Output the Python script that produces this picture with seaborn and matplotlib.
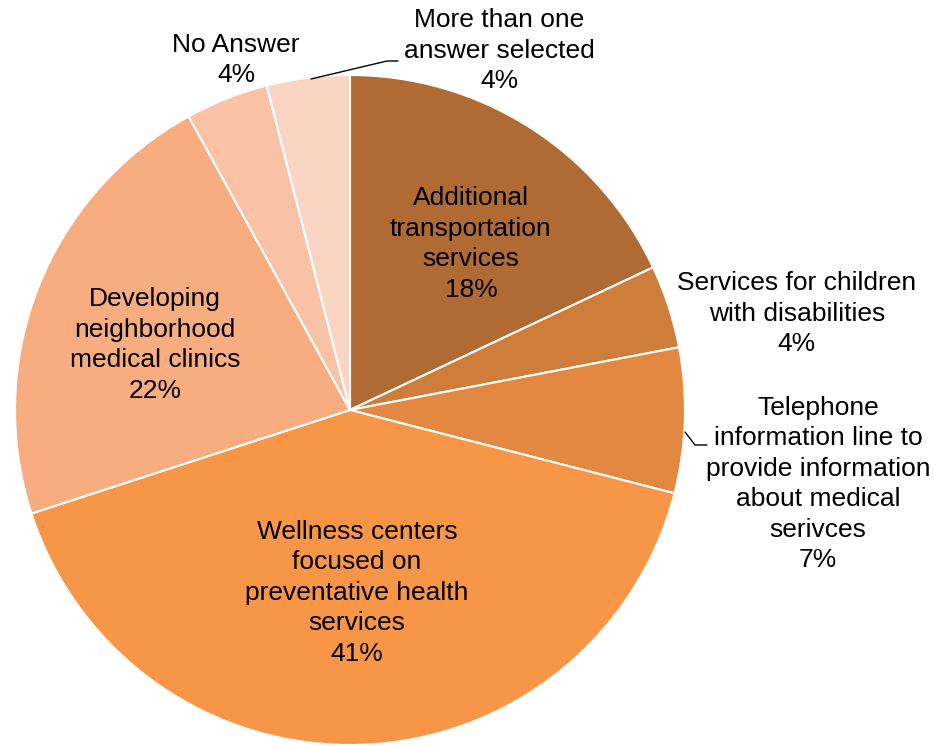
import matplotlib
matplotlib.use("Agg")
import matplotlib.pyplot as plt
import seaborn as sns
import numpy as np

sns.set_style("white")
plt.rcParams["font.family"] = ["Liberation Sans", "DejaVu Sans"]

# Survey responses (percent of respondents), clockwise from 12 o'clock
categories = [
    "Additional\ntransportation\nservices",
    "Services for children\nwith disabilities",
    "Telephone\ninformation line to\nprovide information\nabout medical\nserivces",
    "Wellness centers\nfocused on\npreventative health\nservices",
    "Developing\nneighborhood\nmedical clinics",
    "No Answer",
    "More than one\nanswer selected",
]
values = [18, 4, 7, 41, 22, 4, 4]
colors = ["#B06A33", "#CF7D3B", "#E38840", "#F79646", "#F8AD80", "#F9C2A6", "#FAD5C4"]

# label anchor points (pie data units, radius = 1)
label_pos = [
    (0.361, 0.496),
    (1.334, 0.287),
    (1.397, -0.221),
    (0.021, -0.546),
    (-0.582, 0.194),
    (-0.340, 1.045),
    (0.445, 1.072),
]

W, H = 934, 746
fig = plt.figure(figsize=(W / 100, H / 100), dpi=100)
cx, cy, r = 350, 410, 335
ax = fig.add_axes([(cx - r) / W, (H - cy - r) / H, 2 * r / W, 2 * r / H])

ax.pie(values, colors=colors, startangle=90, counterclock=False,
       wedgeprops=dict(edgecolor="white", linewidth=1.5), radius=1.0)
ax.set_xlim(-1, 1)
ax.set_ylim(-1, 1)
ax.set_aspect("equal")
ax.axis("off")

for cat, val, (x, y) in zip(categories, values, label_pos):
    ax.text(x, y, f"{cat}\n{val}%", ha="center", va="center", fontsize=19,
            color="black", linespacing=1.34, clip_on=False)


def px(p):
    return ((p[0] - cx) / r, (cy - p[1]) / r)


# leader lines for the small outside labels
for pts in ([(311, 79), (387, 61), (398, 61)], [(685, 432), (695, 445), (707, 445)]):
    xy = np.array([px(p) for p in pts])
    ax.plot(xy[:, 0], xy[:, 1], color="black", lw=1.0, clip_on=False)

fig.savefig("out.png", dpi=100, facecolor="white")
